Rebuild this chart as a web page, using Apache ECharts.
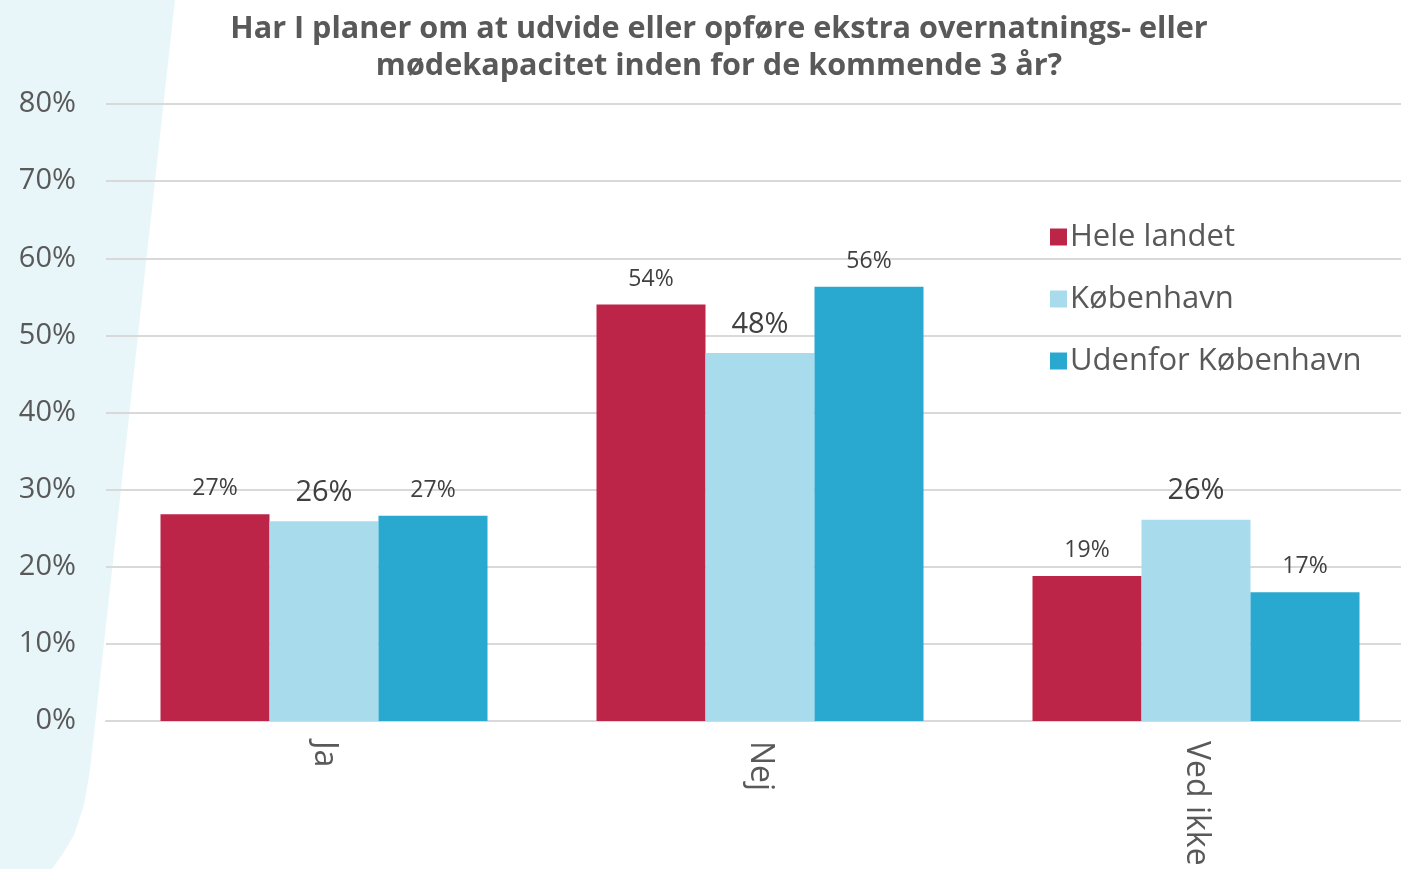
<!DOCTYPE html>
<html>
<head>
<meta charset="utf-8">
<script src="https://cdn.jsdelivr.net/npm/echarts@6/dist/echarts.min.js"></script>
<style>
html, body { margin: 0; padding: 0; background: #fff; }
#chart { width: 1401px; height: 869px; }
</style>
</head>
<body>
<div id="chart"></div>
<script>
var categories = ['Ja', 'Nej', 'Ved ikke'];
var seriesNames = ['Hele landet', 'København', 'Udenfor København'];
var heleLandet = [26.8, 54.0, 18.8];
var koebenhavn = [25.9, 47.7, 26.1];
var udenfor = [26.6, 56.3, 16.7];
var colors = ['#bc2547', '#a8dcec', '#29a8d0'];

var myChart = echarts.init(document.getElementById('chart'));
var fontFamily = '"Open Sans", Lato, sans-serif';

function makeSeries(name, data, color, labelSize, dist) {
	return {
		name: name,
		type: 'bar',
		data: data,
		barWidth: 109,
		barGap: '0%',
		itemStyle: { color: color },
		label: {
			show: true,
			position: 'top',
			distance: dist,
			color: '#404040',
			fontFamily: fontFamily,
			fontSize: labelSize,
			formatter: function (p) { return Math.round(p.value) + '%'; }
		}
	};
}

var option = {
	animation: false,
	textStyle: { fontFamily: fontFamily },
	graphic: [{
		type: 'polygon',
		z: -10,
		silent: true,
		shape: {
			points: [[0, 0], [175, 0], [90, 770], [84, 805], [74, 835], [62, 855], [52, 869], [0, 869]]
		},
		style: { fill: '#e8f6fa' }
	}],
	title: {
		text: 'Har I planer om at udvide eller opføre ekstra overnatnings- eller\nmødekapacitet inden for de kommende 3 år?',
		left: 714,
		textAlign: 'center',
		top: 6,
		textStyle: {
			color: '#595959',
			fontWeight: 'bold',
			fontSize: 30.6,
			lineHeight: 37,
			fontFamily: fontFamily
		}
	},
	legend: {
		orient: 'vertical',
		left: 1045,
		top: 211,
		itemWidth: 17,
		itemHeight: 17,
		itemGap: 20,
		icon: 'rect',
		data: seriesNames,
		textStyle: { color: '#595959', fontSize: 31, lineHeight: 42, fontFamily: fontFamily, padding: [0, 0, 0, -2] }
	},
	grid: {
		left: 106,
		width: 1308,
		top: 104,
		bottom: 148,
		outerBoundsMode: 'none',
		containLabel: false
	},
	xAxis: {
		type: 'category',
		data: categories,
		axisLine: { lineStyle: { color: '#d9d9d9', width: 2 } },
		axisTick: { show: false },
		axisLabel: {
			rotate: -90,
			margin: 20,
			color: '#595959',
			fontSize: 32,
			fontFamily: fontFamily
		}
	},
	yAxis: {
		type: 'value',
		min: 0,
		max: 80,
		interval: 10,
		axisLine: { show: false },
		axisTick: { show: false },
		splitLine: { lineStyle: { color: '#d9d9d9', width: 2 } },
		axisLabel: {
			margin: 30,
			color: '#595959',
			fontSize: 29,
			fontFamily: fontFamily,
			formatter: '{value}%'
		}
	},
	series: [
		makeSeries(seriesNames[0], heleLandet, colors[0], 23, 14),
		makeSeries(seriesNames[1], koebenhavn, colors[1], 29, 14),
		makeSeries(seriesNames[2], udenfor, colors[2], 23, 14)
	]
};
myChart.setOption(option);
</script>
</body>
</html>
